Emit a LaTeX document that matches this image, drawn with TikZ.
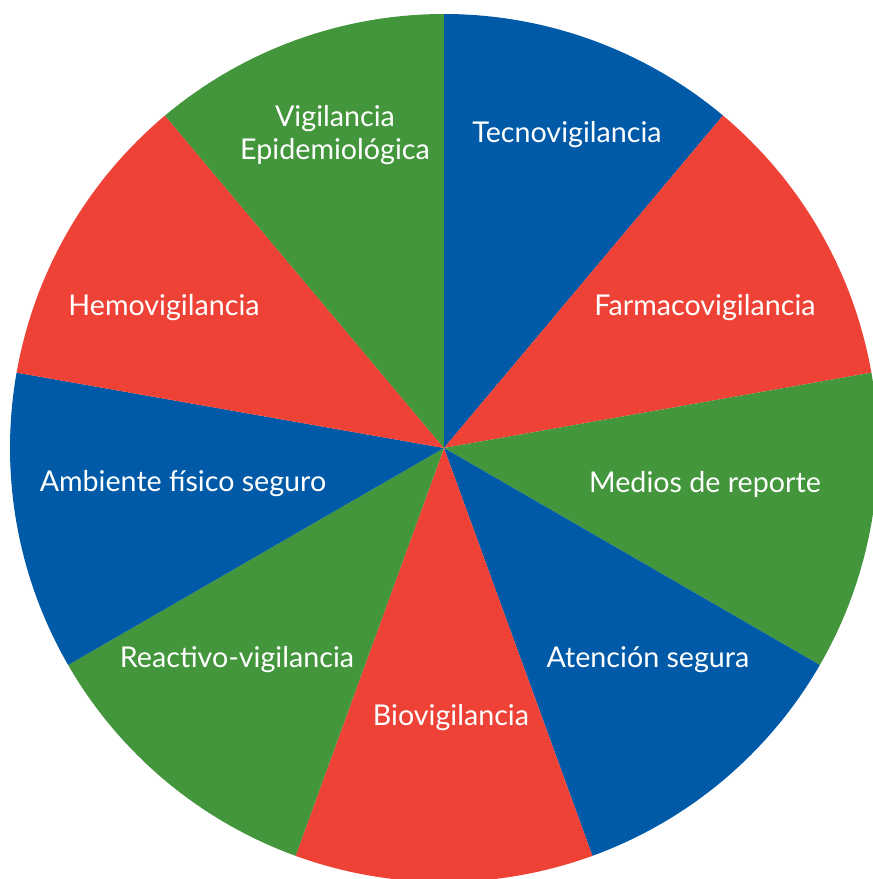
\documentclass[tikz,border=0pt]{standalone}
\usepackage{fontspec}
\setmainfont{Lato}
\definecolor{pieblue}{HTML}{015AA7}
\definecolor{piered}{HTML}{EE4237}
\definecolor{piegreen}{HTML}{43963B}
\tikzset{
  lbl/.style = {text=white, font=\fontsize{8.15}{9.4}\selectfont, align=center, inner sep=0pt},
}
\begin{document}
\begin{tikzpicture}
  \useasboundingbox (0,0) rectangle (8.73,8.79);
  \clip (0,0) rectangle (8.73,8.79);
  \coordinate (C) at (4.44,4.31);
  % slices, 40 degrees each
  \fill[pieblue]  (C) -- +(90:4.34)  arc[start angle=90,  end angle=50,   radius=4.34] -- cycle;
  \fill[piered]   (C) -- +(50:4.34)  arc[start angle=50,  end angle=10,   radius=4.34] -- cycle;
  \fill[piegreen] (C) -- +(10:4.34)  arc[start angle=10,  end angle=-30,  radius=4.34] -- cycle;
  \fill[pieblue]  (C) -- +(-30:4.34) arc[start angle=-30, end angle=-70,  radius=4.34] -- cycle;
  \fill[piered]   (C) -- +(-70:4.34) arc[start angle=-70, end angle=-110, radius=4.34] -- cycle;
  \fill[piegreen] (C) -- +(250:4.34) arc[start angle=250, end angle=210,  radius=4.34] -- cycle;
  \fill[pieblue]  (C) -- +(210:4.34) arc[start angle=210, end angle=170,  radius=4.34] -- cycle;
  \fill[piered]   (C) -- +(170:4.34) arc[start angle=170, end angle=130,  radius=4.34] -- cycle;
  \fill[piegreen] (C) -- +(130:4.34) arc[start angle=130, end angle=90,   radius=4.34] -- cycle;
  % labels
  \node[lbl] (tecno)  at (5.67,7.44) {Tecnovigilancia};
  \node[lbl] (farma)  at (7.05,5.71) {Farmacovigilancia};
  \node[lbl] (medios) at (7.05,3.95) {Medios de reporte};
  \node[lbl] (atenc)  at (6.48,2.19) {Atención segura};
  \node[lbl] (bio)    at (4.51,1.61) {Biovigilancia};
  \node[lbl] (reac)   at (2.37,2.19) {Reactivo-vigilancia};
  \node[lbl] (amb)    at (1.83,3.95) {Ambiente físico seguro};
  \node[lbl] (hemo)   at (1.64,5.71) {Hemovigilancia};
  \node[lbl] (epi)    at (3.35,7.44) {Vigilancia\\Epidemiológica};
\end{tikzpicture}
\end{document}
